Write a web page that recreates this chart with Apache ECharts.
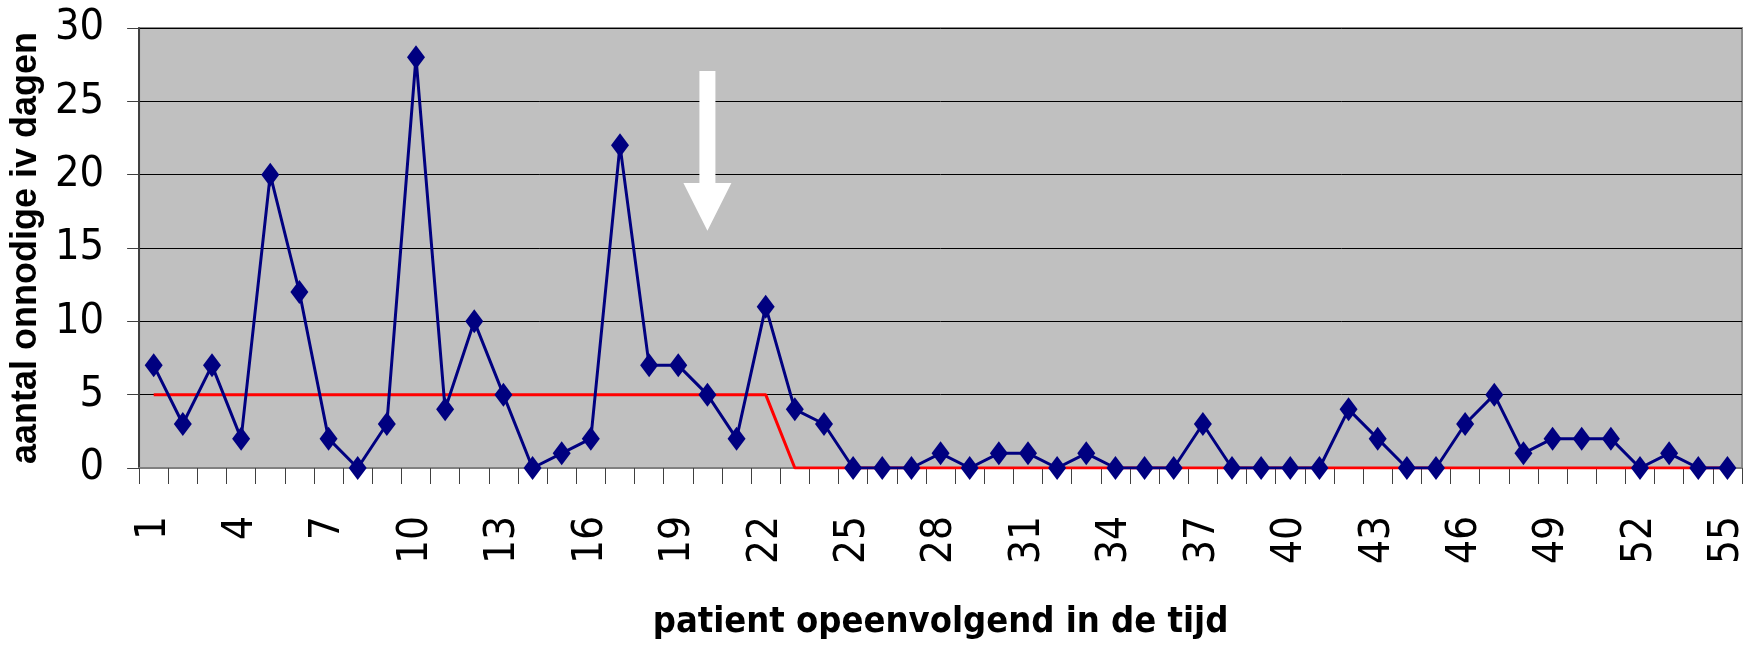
<!DOCTYPE html>
<html>
<head>
<meta charset="utf-8">
<script src="https://cdn.jsdelivr.net/npm/echarts@6/dist/echarts.min.js"></script>
<style>
  html, body { margin: 0; padding: 0; background: #ffffff; }
  #chart { width: 1760px; height: 649px; }
</style>
</head>
<body>
<div id="chart"></div>
<script>
// ---- data ----
const categories = [];
for (let i = 1; i <= 55; i++) categories.push(String(i));

const onnodigeDagen = [7, 3, 7, 2, 20, 12, 2, 0, 3, 28,
                       4, 10, 5, 0, 1, 2, 22, 7, 7, 5,
                       2, 11, 4, 3, 0, 0, 0, 1, 0, 1,
                       1, 0, 1, 0, 0, 0, 3, 0, 0, 0,
                       0, 4, 2, 0, 0, 3, 5, 1, 2, 2,
                       2, 0, 1, 0, 0];

const mediaan = [5, 5, 5, 5, 5, 5, 5, 5, 5, 5,
                 5, 5, 5, 5, 5, 5, 5, 5, 5, 5,
                 5, 5, 0, 0, 0, 0, 0, 0, 0, 0,
                 0, 0, 0, 0, 0, 0, 0, 0, 0, 0,
                 0, 0, 0, 0, 0, 0, 0, 0, 0, 0,
                 0, 0, 0, 0, 0];

// arrow annotation in data units: [category index, top, head base, tip]
const arrowPos = [18.84, 27.07, 19.43, 16.18];

const yTicks = [0, 5, 10, 15, 20, 25, 30];

const narrow = "'DejaVu Sans Condensed', 'Liberation Sans Narrow', 'Liberation Sans', sans-serif";

const chart = echarts.init(document.getElementById('chart'), null, { renderer: 'canvas' });

const option = {
  animation: false,
  backgroundColor: '#ffffff',
  grid: {
    left: 135, right: 18, top: 28, bottom: 181,
    show: true,
    backgroundColor: '#c0c0c0',
    borderColor: '#8a8a8a',
    borderWidth: 2
  },
  xAxis: {
    type: 'category',
    data: categories,
    boundaryGap: true,
    name: 'patient opeenvolgend in de tijd',
    nameLocation: 'middle',
    nameGap: 137,
    nameTextStyle: {
      fontFamily: narrow,
      fontWeight: 'bold',
      fontSize: 36,
      color: '#000000'
    },
    axisLine: { show: true, lineStyle: { color: '#808080', width: 2 } },
    axisTick: { show: true, inside: false, length: 16, interval: 0, lineStyle: { color: '#404040', width: 1 } },
    axisLabel: {
      interval: 2,
      rotate: 90,
      margin: 48,
      fontFamily: narrow,
      fontSize: 42,
      color: '#000000'
    },
    splitLine: { show: false }
  },
  yAxis: {
    type: 'value',
    min: yTicks[0],
    max: yTicks[yTicks.length - 1],
    interval: 5,
    name: 'aantal onnodige iv dagen',
    nameLocation: 'middle',
    nameGap: 86,
    nameTextStyle: {
      fontFamily: 'Liberation Sans',
      fontWeight: 'bold',
      fontSize: 36,
      color: '#000000'
    },
    axisLine: { show: true, lineStyle: { color: '#404040', width: 2 } },
    axisTick: { show: true, inside: false, length: 12, lineStyle: { color: '#404040', width: 1 } },
    axisLabel: {
      margin: 35,
      fontFamily: narrow,
      fontSize: 43,
      color: '#000000'
    },
    splitLine: { show: true, lineStyle: { color: '#000000', width: 1 } }
  },
  series: [
    {
      name: 'mediaan',
      type: 'line',
      data: mediaan,
      symbol: 'none',
      lineStyle: { color: '#ff0000', width: 3 },
      itemStyle: { color: '#ff0000' },
      z: 2
    },
    {
      name: 'onnodige iv dagen',
      type: 'line',
      data: onnodigeDagen,
      symbol: 'diamond',
      showAllSymbol: true,
      symbolSize: [18, 24],
      lineStyle: { color: '#000080', width: 3 },
      itemStyle: { color: '#000080' },
      z: 3
    },
    {
      name: 'pijl',
      type: 'custom',
      silent: true,
      z: 4,
      data: [arrowPos],
      renderItem: function (params, api) {
        const top = api.coord([api.value(0), api.value(1)]);
        const base = api.coord([api.value(0), api.value(2)]);
        const tip = api.coord([api.value(0), api.value(3)]);
        const cx = top[0];
        const sw = 8, hw = 24;
        return {
          type: 'polygon',
          shape: {
            points: [
              [cx - sw, top[1]], [cx + sw, top[1]],
              [cx + sw, base[1]], [cx + hw, base[1]],
              [cx, tip[1]],
              [cx - hw, base[1]], [cx - sw, base[1]]
            ]
          },
          style: { fill: '#ffffff', stroke: null }
        };
      }
    }
  ]
};

chart.setOption(option);
</script>
</body>
</html>
